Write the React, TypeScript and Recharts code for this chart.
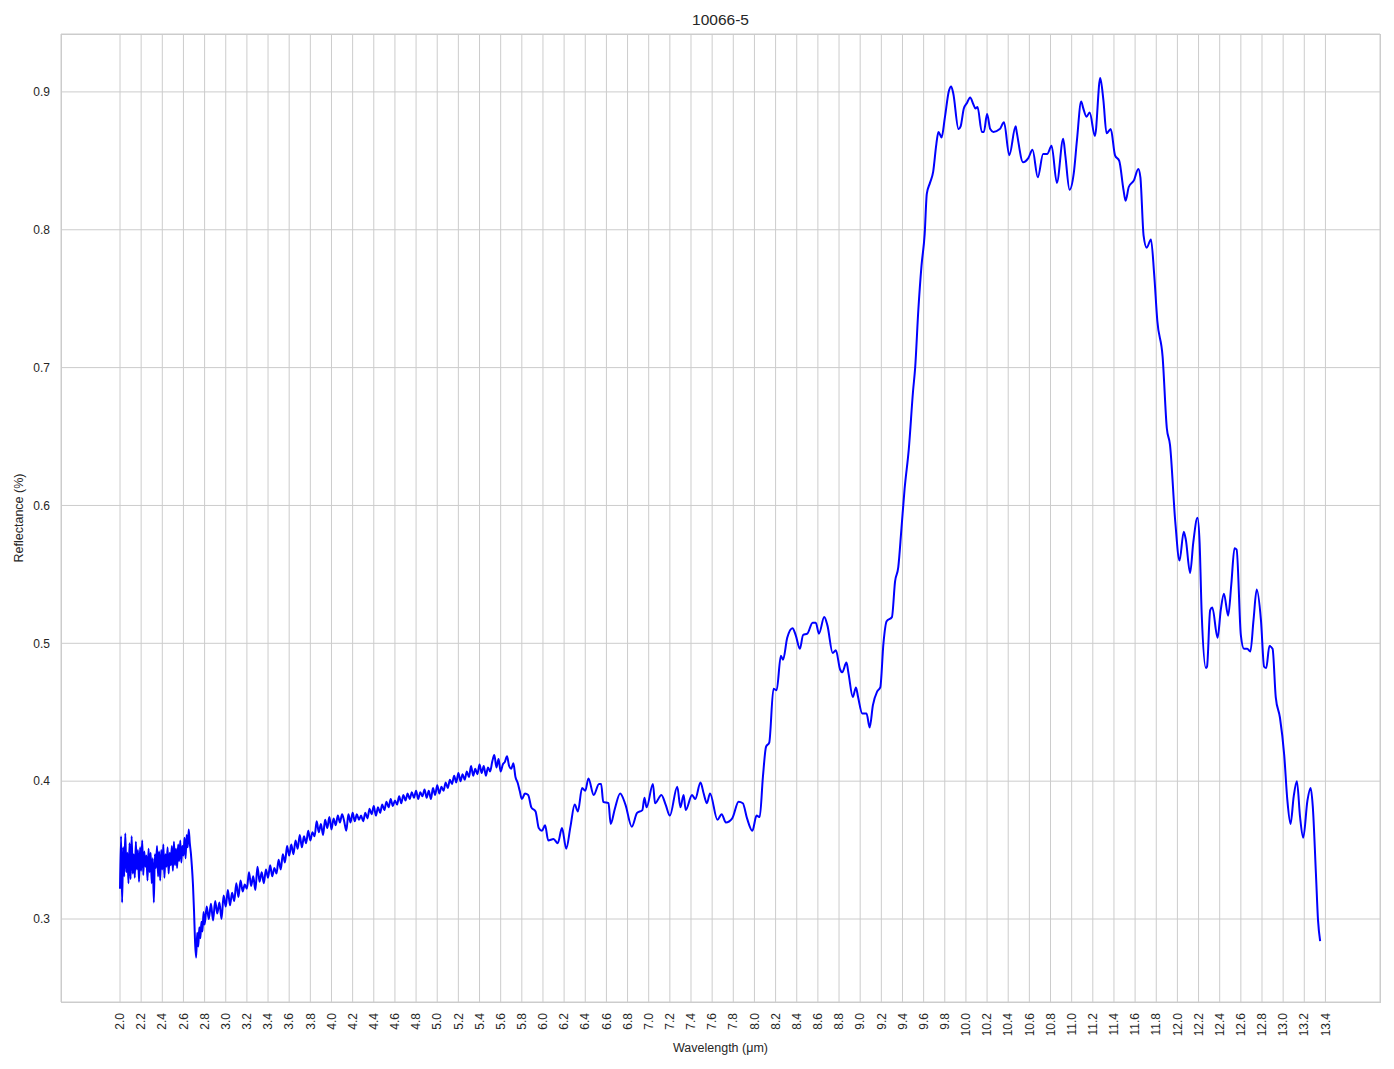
import React from 'react';
import { LineChart, Line, XAxis, YAxis, CartesianGrid } from 'recharts';

// Segment 1: noisy start and the sharp drop near 2.7 µm
const wavelengthsStart = [
  2.00, 2.01, 2.02, 2.03, 2.04, 2.05, 2.06, 2.07, 2.08, 2.09,
  2.10, 2.11, 2.12, 2.13, 2.14, 2.15, 2.16, 2.17, 2.18, 2.19,
  2.20, 2.21, 2.22, 2.23, 2.24, 2.25, 2.26, 2.27, 2.28, 2.29,
  2.30, 2.31, 2.32, 2.33, 2.34, 2.35, 2.36, 2.37, 2.38, 2.39,
  2.40, 2.41, 2.42, 2.43, 2.44, 2.45, 2.46, 2.47, 2.48, 2.49,
  2.50, 2.51, 2.52, 2.53, 2.54, 2.55, 2.56, 2.57, 2.58, 2.59,
  2.60, 2.61, 2.62, 2.63, 2.64, 2.65, 2.66, 2.67, 2.68, 2.69,
  2.70, 2.71, 2.72, 2.73, 2.74, 2.75, 2.76, 2.77, 2.78, 2.79,
];
const reflectanceStart = [
  0.322, 0.360, 0.312, 0.352, 0.331, 0.362, 0.334, 0.348, 0.326, 0.355,
  0.329, 0.360, 0.333, 0.347, 0.330, 0.356, 0.336, 0.350, 0.327, 0.352,
  0.335, 0.357, 0.332, 0.349, 0.338, 0.346, 0.328, 0.351, 0.334, 0.348,
  0.326, 0.344, 0.312, 0.347, 0.337, 0.353, 0.331, 0.349, 0.328, 0.350,
  0.336, 0.354, 0.330, 0.347, 0.338, 0.352, 0.333, 0.348, 0.339, 0.353,
  0.335, 0.356, 0.339, 0.351, 0.337, 0.354, 0.342, 0.357, 0.341, 0.353,
  0.346, 0.359, 0.344, 0.361, 0.352, 0.365, 0.355, 0.348, 0.338, 0.325,
  0.306, 0.283, 0.272, 0.290, 0.280, 0.294, 0.286, 0.298, 0.291, 0.305,
];

// Segment 2: noisy rising section 2.8 - 5.8 µm
const wavelengthsRise = [
  2.80, 2.82, 2.84, 2.86, 2.88, 2.90, 2.92, 2.94, 2.96, 2.98,
  3.00, 3.02, 3.04, 3.06, 3.08, 3.10, 3.12, 3.14, 3.16, 3.18,
  3.20, 3.22, 3.24, 3.26, 3.28, 3.30, 3.32, 3.34, 3.36, 3.38,
  3.40, 3.42, 3.44, 3.46, 3.48, 3.50, 3.52, 3.54, 3.56, 3.58,
  3.60, 3.62, 3.64, 3.66, 3.68, 3.70, 3.72, 3.74, 3.76, 3.78,
  3.80, 3.82, 3.84, 3.86, 3.88, 3.90, 3.92, 3.94, 3.96, 3.98,
  4.00, 4.02, 4.04, 4.06, 4.08, 4.10, 4.12, 4.14, 4.16, 4.18,
  4.20, 4.22, 4.24, 4.26, 4.28, 4.30, 4.32, 4.34, 4.36, 4.38,
  4.40, 4.42, 4.44, 4.46, 4.48, 4.50, 4.52, 4.54, 4.56, 4.58,
  4.60, 4.62, 4.64, 4.66, 4.68, 4.70, 4.72, 4.74, 4.76, 4.78,
  4.80, 4.82, 4.84, 4.86, 4.88, 4.90, 4.92, 4.94, 4.96, 4.98,
  5.00, 5.02, 5.04, 5.06, 5.08, 5.10, 5.12, 5.14, 5.16, 5.18,
  5.20, 5.22, 5.24, 5.26, 5.28, 5.30, 5.32, 5.34, 5.36, 5.38,
  5.40, 5.42, 5.44, 5.46, 5.48, 5.50, 5.52, 5.54, 5.56, 5.58,
  5.60, 5.62, 5.64, 5.66, 5.68, 5.70, 5.72, 5.74, 5.76, 5.78,
  5.80,
];
const reflectanceRise = [
  0.296, 0.309, 0.300, 0.311, 0.299, 0.313, 0.304, 0.312, 0.300, 0.317,
  0.309, 0.321, 0.310, 0.319, 0.313, 0.326, 0.316, 0.328, 0.320, 0.325,
  0.322, 0.334, 0.324, 0.331, 0.321, 0.338, 0.327, 0.334, 0.326, 0.336,
  0.330, 0.339, 0.331, 0.337, 0.333, 0.343, 0.336, 0.347, 0.341, 0.353,
  0.346, 0.354, 0.347, 0.357, 0.351, 0.361, 0.352, 0.360, 0.355, 0.364,
  0.357, 0.363, 0.360, 0.371, 0.363, 0.369, 0.361, 0.372, 0.366, 0.374,
  0.365, 0.373, 0.368, 0.375, 0.370, 0.376, 0.371, 0.364, 0.376, 0.370,
  0.377, 0.371, 0.376, 0.372, 0.375, 0.371, 0.377, 0.373, 0.380, 0.376,
  0.382, 0.375, 0.381, 0.377, 0.383, 0.379, 0.385, 0.381, 0.387, 0.382,
  0.386, 0.383, 0.389, 0.384, 0.390, 0.386, 0.391, 0.387, 0.392, 0.388,
  0.393, 0.387, 0.392, 0.389, 0.394, 0.388, 0.393, 0.387, 0.395, 0.390,
  0.397, 0.391, 0.396, 0.393, 0.399, 0.395, 0.401, 0.398, 0.404, 0.399,
  0.406, 0.400, 0.405, 0.401, 0.407, 0.403, 0.411, 0.404, 0.409, 0.405,
  0.412, 0.406, 0.411, 0.404, 0.410, 0.407, 0.414, 0.419, 0.410, 0.416,
  0.407, 0.412, 0.414, 0.418, 0.411, 0.409, 0.413, 0.403, 0.399, 0.393,
  0.387,
];

// Segment 3: smooth section 5.8 - 13.35 µm
const wavelengthsSmooth = [
  5.83, 5.86, 5.89, 5.93, 5.96, 5.99, 6.02, 6.05, 6.10, 6.14,
  6.18, 6.22, 6.26, 6.30, 6.33, 6.37, 6.40, 6.43, 6.48, 6.53,
  6.55, 6.57, 6.62, 6.64, 6.68, 6.73, 6.78, 6.84, 6.89, 6.94,
  6.96, 6.98, 7.04, 7.06, 7.12, 7.16, 7.20, 7.27, 7.30, 7.33,
  7.35, 7.41, 7.44, 7.49, 7.52, 7.55, 7.58, 7.65, 7.69, 7.73,
  7.79, 7.85, 7.89, 7.93, 7.98, 8.02, 8.05, 8.08, 8.11, 8.14,
  8.18, 8.21, 8.25, 8.27, 8.31, 8.36, 8.39, 8.43, 8.46, 8.50,
  8.55, 8.58, 8.61, 8.66, 8.69, 8.74, 8.77, 8.81, 8.83, 8.87,
  8.89, 8.93, 8.96, 8.98, 9.02, 9.06, 9.09, 9.12, 9.16, 9.19,
  9.22, 9.25, 9.30, 9.33, 9.36, 9.39, 9.42, 9.46, 9.50, 9.52,
  9.55, 9.58, 9.61, 9.63, 9.66, 9.69, 9.72, 9.74, 9.77, 9.80,
  9.84, 9.86, 9.88, 9.93, 9.95, 9.98, 10.01, 10.04, 10.07, 10.09,
  10.11, 10.15, 10.17, 10.20, 10.23, 10.26, 10.32, 10.36, 10.41, 10.47,
  10.48, 10.54, 10.59, 10.63, 10.68, 10.73, 10.77, 10.81, 10.86, 10.92,
  10.94, 10.98, 11.02, 11.05, 11.09, 11.11, 11.14, 11.17, 11.22, 11.27,
  11.30, 11.33, 11.37, 11.41, 11.45, 11.49, 11.51, 11.54, 11.59, 11.63,
  11.65, 11.68, 11.71, 11.75, 11.78, 11.81, 11.86, 11.90, 11.93, 11.98,
  12.02, 12.06, 12.08, 12.12, 12.15, 12.19, 12.21, 12.23, 12.27, 12.28,
  12.31, 12.33, 12.38, 12.41, 12.44, 12.48, 12.51, 12.54, 12.56, 12.60,
  12.63, 12.66, 12.69, 12.72, 12.75, 12.79, 12.82, 12.84, 12.87, 12.90,
  12.93, 12.97, 13.01, 13.04, 13.07, 13.10, 13.13, 13.16, 13.19, 13.23,
  13.26, 13.28, 13.31, 13.33, 13.35,
];
const reflectanceSmooth = [
  0.391, 0.390, 0.381, 0.378, 0.366, 0.364, 0.368, 0.357, 0.358, 0.355,
  0.366, 0.351, 0.367, 0.383, 0.378, 0.395, 0.393, 0.402, 0.390, 0.398,
  0.398, 0.385, 0.384, 0.369, 0.380, 0.391, 0.383, 0.367, 0.377, 0.379,
  0.388, 0.381, 0.398, 0.384, 0.390, 0.383, 0.375, 0.396, 0.381, 0.390,
  0.379, 0.390, 0.387, 0.399, 0.391, 0.384, 0.391, 0.372, 0.376, 0.370,
  0.373, 0.385, 0.384, 0.373, 0.364, 0.375, 0.374, 0.403, 0.425, 0.428,
  0.467, 0.466, 0.491, 0.488, 0.504, 0.511, 0.506, 0.496, 0.506, 0.507,
  0.515, 0.515, 0.507, 0.519, 0.513, 0.493, 0.495, 0.481, 0.479, 0.486,
  0.478, 0.461, 0.468, 0.461, 0.449, 0.449, 0.439, 0.455, 0.465, 0.468,
  0.500, 0.516, 0.519, 0.545, 0.555, 0.583, 0.612, 0.641, 0.683, 0.700,
  0.742, 0.774, 0.797, 0.826, 0.834, 0.842, 0.862, 0.871, 0.867, 0.881,
  0.901, 0.904, 0.899, 0.873, 0.875, 0.888, 0.892, 0.896, 0.891, 0.888,
  0.889, 0.871, 0.871, 0.884, 0.873, 0.871, 0.873, 0.878, 0.854, 0.875,
  0.871, 0.849, 0.852, 0.858, 0.838, 0.855, 0.855, 0.861, 0.834, 0.866,
  0.854, 0.829, 0.841, 0.865, 0.893, 0.888, 0.882, 0.885, 0.868, 0.910,
  0.894, 0.870, 0.873, 0.854, 0.850, 0.829, 0.821, 0.831, 0.836, 0.844,
  0.838, 0.796, 0.787, 0.793, 0.768, 0.734, 0.708, 0.656, 0.644, 0.588,
  0.560, 0.581, 0.575, 0.551, 0.573, 0.591, 0.573, 0.521, 0.482, 0.483,
  0.524, 0.526, 0.504, 0.524, 0.536, 0.520, 0.543, 0.569, 0.568, 0.506,
  0.496, 0.496, 0.494, 0.517, 0.539, 0.517, 0.483, 0.482, 0.498, 0.496,
  0.461, 0.446, 0.419, 0.386, 0.369, 0.389, 0.400, 0.374, 0.359, 0.386,
  0.395, 0.382, 0.333, 0.299, 0.284,
];

const xTicks = [
  2.0, 2.2, 2.4, 2.6, 2.8, 3.0, 3.2, 3.4, 3.6, 3.8,
  4.0, 4.2, 4.4, 4.6, 4.8, 5.0, 5.2, 5.4, 5.6, 5.8,
  6.0, 6.2, 6.4, 6.6, 6.8, 7.0, 7.2, 7.4, 7.6, 7.8,
  8.0, 8.2, 8.4, 8.6, 8.8, 9.0, 9.2, 9.4, 9.6, 9.8,
  10.0, 10.2, 10.4, 10.6, 10.8, 11.0, 11.2, 11.4, 11.6, 11.8,
  12.0, 12.2, 12.4, 12.6, 12.8, 13.0, 13.2, 13.4,
];
const yTicks = [0.3, 0.4, 0.5, 0.6, 0.7, 0.8, 0.9];

const wavelengths = [...wavelengthsStart, ...wavelengthsRise, ...wavelengthsSmooth];
const reflectance = [...reflectanceStart, ...reflectanceRise, ...reflectanceSmooth];
const data = wavelengths.map((w, i) => ({ x: w, y: reflectance[i] }));

const FONT = '"Liberation Sans", Arial, "DejaVu Sans", sans-serif';
const TEXT = '#262626';
const GRID = '#cccccc';

const W = 1394;
const H = 1069;
const PLOT_LEFT = 61;
const PLOT_TOP = 34;
const PLOT_RIGHT = 1380;
const PLOT_BOTTOM = 1002;

const XTick = (props: any) => {
  const { x, y, payload } = props;
  return (
    <text
      x={x}
      y={y}
      transform={`rotate(-90, ${x}, ${y})`}
      textAnchor="end"
      dy="0.35em"
      fontSize={12}
      fontFamily={FONT}
      fill={TEXT}
    >
      {Number(payload.value).toFixed(1)}
    </text>
  );
};

const YTick = (props: any) => {
  const { x, y, payload } = props;
  return (
    <text x={x} y={y} textAnchor="end" dy="0.35em" fontSize={12} fontFamily={FONT} fill={TEXT}>
      {Number(payload.value).toFixed(1)}
    </text>
  );
};

export default function App() {
  return (
    <div style={{ position: 'absolute', left: 0, top: 0, width: W, height: H, background: '#fff' }}>
      <LineChart
        width={W}
        height={H}
        data={data}
        margin={{ top: PLOT_TOP, right: W - PLOT_RIGHT, bottom: 0, left: 0 }}
      >
        <CartesianGrid stroke={GRID} strokeWidth={1} />
        <XAxis
          dataKey="x"
          type="number"
          domain={[1.442, 13.916]}
          allowDataOverflow
          ticks={xTicks}
          interval={0}
          height={H - PLOT_BOTTOM}
          tickLine={false}
          tickSize={0}
          tickMargin={11}
          axisLine={false}
          tick={<XTick />}
        />
        <YAxis
          type="number"
          domain={[0.2398, 0.942]}
          allowDataOverflow
          ticks={yTicks}
          interval={0}
          width={PLOT_LEFT}
          tickLine={false}
          tickSize={0}
          tickMargin={11}
          axisLine={false}
          tick={<YTick />}
        />
        <Line
          type="monotone"
          dataKey="y"
          stroke="#0000ff"
          strokeWidth={2}
          dot={false}
          activeDot={false}
          isAnimationActive={false}
        />
      </LineChart>
      <div
        style={{
          position: 'absolute',
          left: PLOT_LEFT,
          top: PLOT_TOP,
          width: PLOT_RIGHT - PLOT_LEFT - 1,
          height: PLOT_BOTTOM - PLOT_TOP - 1,
          border: `1px solid ${GRID}`,
          pointerEvents: 'none',
        }}
      />
      <div
        style={{
          position: 'absolute',
          left: PLOT_LEFT,
          width: PLOT_RIGHT - PLOT_LEFT,
          top: 11,
          lineHeight: '18px',
          textAlign: 'center',
          fontSize: 15.5,
          fontFamily: FONT,
          color: TEXT,
        }}
      >
        10066-5
      </div>
      <div
        style={{
          position: 'absolute',
          left: PLOT_LEFT,
          width: PLOT_RIGHT - PLOT_LEFT,
          top: 1040,
          lineHeight: '16px',
          textAlign: 'center',
          fontSize: 12.5,
          fontFamily: FONT,
          color: TEXT,
        }}
      >
        Wavelength (μm)
      </div>
      <div
        style={{
          position: 'absolute',
          left: 19 - 150,
          top: 518 - 8,
          width: 300,
          lineHeight: '16px',
          textAlign: 'center',
          fontSize: 12.5,
          fontFamily: FONT,
          color: TEXT,
          transform: 'rotate(-90deg)',
          transformOrigin: '150px 8px',
        }}
      >
        Reflectance (%)
      </div>
    </div>
  );
}
